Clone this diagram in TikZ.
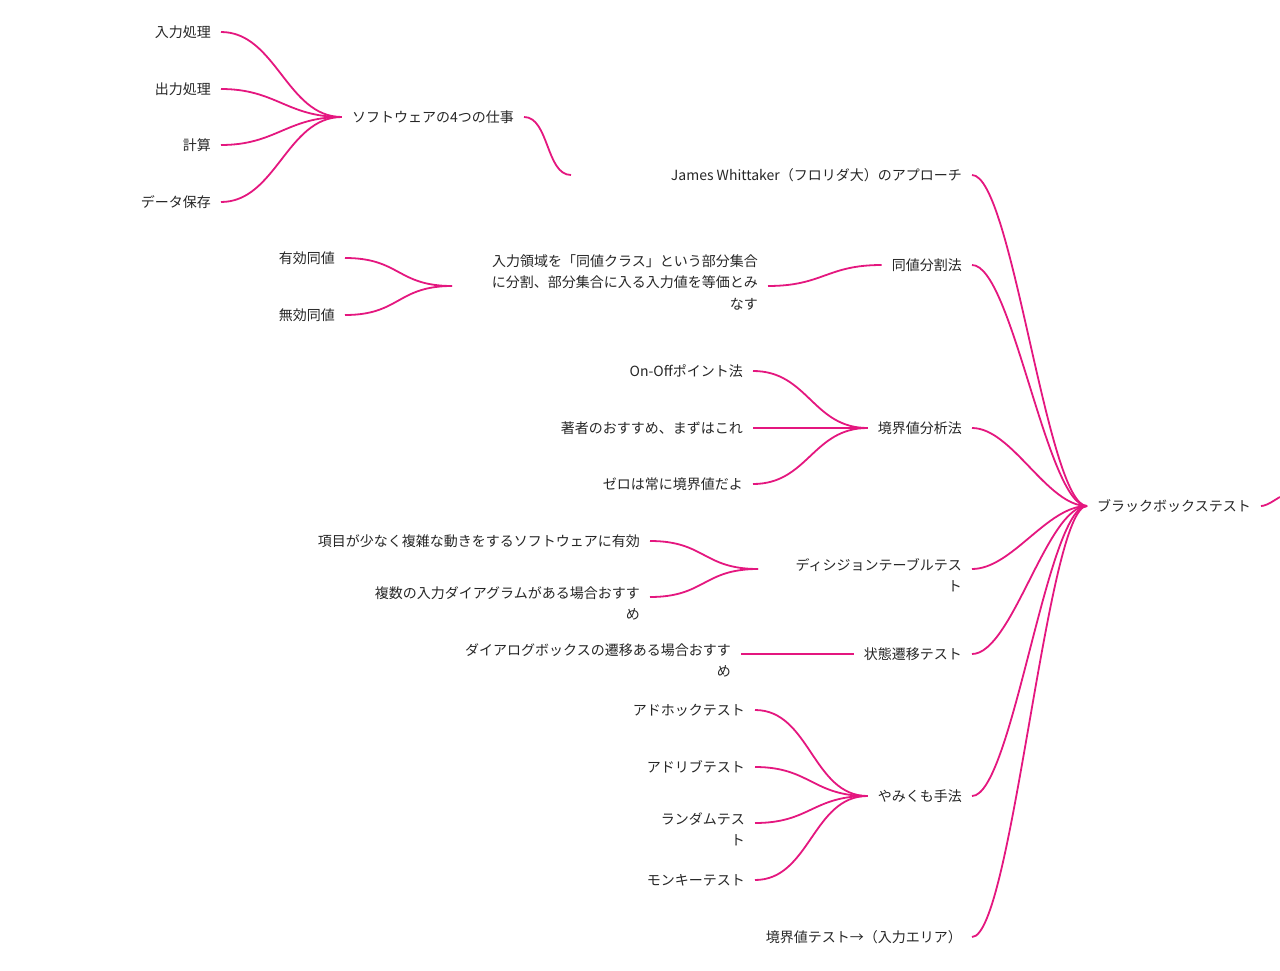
\documentclass[tikz,border=0pt]{standalone}
\usepackage{fontspec}
\setmainfont{Noto Sans CJK JP}
\definecolor{mm}{HTML}{E4177F}
\begin{document}
\begin{tikzpicture}[x=1pt,y=1pt,
  t/.style={inner xsep=10pt,inner ysep=0pt,anchor=east,font=\fontsize{14}{21.5}\selectfont,text=black!85},
  tm/.style={t,anchor=north east,align=right},
  c/.style={draw=mm,line width=1.8pt}]
\useasboundingbox (0,0) rectangle (1280,-971);
\newcommand\cn[2]{\draw[c] (#1) .. controls ($(#1)!0.5!(#2)$ |- #1) and ($(#1)!0.5!(#2)$ |- #2) .. (#2);}
\newcommand\cnx[2]{\draw[c] (#1) .. controls +(40,0) and +(-40,0) .. (#2);}
% root
\node[t,anchor=west] (root) at (1087,-506) {ブラックボックステスト};
\coordinate (rr) at (1280,-497);
\draw[c] (root.east) .. controls +(6,0) and +(-4,-2) .. (rr);
% level 1
\node[t] (jw) at (972,-175) {James Whittaker（フロリダ大）のアプローチ};
\coordinate (jwl) at (571,-175);
\node[t] (dv) at (972,-265) {同値分割法};
\node[t] (ba) at (972,-428) {境界値分析法};
\node[tm] (dt) at (972,-558) {ディシジョンテーブルテス\\ト};
\coordinate (dte) at (972,-569); \coordinate (dtw) at (758,-569);
\node[t] (st) at (972,-654) {状態遷移テスト};
\node[t] (ym) at (972,-796) {やみくも手法};
\node[t] (bt) at (972,-937) {境界値テスト→（入力エリア）};
\foreach \n in {jw,dv,ba,st,ym,bt}{\draw[c] (\n.east) .. controls +(40,0) and +(-40,0) .. (root.west);}
\draw[c] (dte) .. controls +(40,0) and +(-40,0) .. (root.west);
% James
\node[t] (sw) at (524,-117) {ソフトウェアの4つの仕事};
\draw[c] (sw.east) .. controls +(25,0) and +(-25,0) .. (jwl);
\foreach \n/\y/\s in {a/32/入力処理,b/89/出力処理,c/145/計算,d/202/データ保存}{
  \node[t] (sw\n) at (221,-\y) {\s};
  \draw[c] (sw\n.east) .. controls +(55,0) and +(-55,0) .. (sw.west);}
% 同値分割
\node[tm] (dvx) at (768,-254) {入力領域を「同値クラス」という部分集合\\に分割、部分集合に入る入力値を等価とみ\\なす};
\coordinate (dvxe) at (768,-286); \coordinate (dvxw) at (452,-286);
\draw[c] (dvxe) .. controls +(55,0) and +(-55,0) .. (dv.west);
\foreach \n/\y/\s in {a/258/有効同値,b/315/無効同値}{
  \node[t] (dv\n) at (345,-\y) {\s};
  \draw[c] (dv\n.east) .. controls +(55,0) and +(-55,0) .. (dvxw);}
% 境界値分析
\foreach \n/\y/\s in {a/371/On-Offポイント法,b/428/著者のおすすめ、まずはこれ,c/484/ゼロは常に境界値だよ}{
  \node[t] (ba\n) at (753,-\y) {\s};
  \draw[c] (ba\n.east) .. controls +(55,0) and +(-55,0) .. (ba.west);}
% ディシジョン
\node[t] (dta) at (650,-541) {項目が少なく複雑な動きをするソフトウェアに有効};
\node[tm] (dtb) at (650,-586) {複数の入力ダイアグラムがある場合おすす\\め};
\coordinate (dtbe) at (650,-597);
\draw[c] (dta.east) .. controls +(55,0) and +(-55,0) .. (dtw);
\draw[c] (dtbe) .. controls +(55,0) and +(-55,0) .. (dtw);
% 状態遷移
\node[tm] (sta) at (741,-643) {ダイアログボックスの遷移ある場合おすす\\め};
\coordinate (stae) at (741,-654);
\draw[c] (stae) -- (st.west);
% やみくも
\node[t] (yma) at (755,-710) {アドホックテスト};
\node[t] (ymb) at (755,-767) {アドリブテスト};
\node[tm] (ymc) at (755,-812) {ランダムテス\\ト};
\coordinate (ymce) at (755,-823);
\node[t] (ymd) at (755,-880) {モンキーテスト};
\foreach \n in {yma,ymb,ymd}{\draw[c] (\n.east) .. controls +(55,0) and +(-55,0) .. (ym.west);}
\draw[c] (ymce) .. controls +(55,0) and +(-55,0) .. (ym.west);
\end{tikzpicture}
\end{document}
